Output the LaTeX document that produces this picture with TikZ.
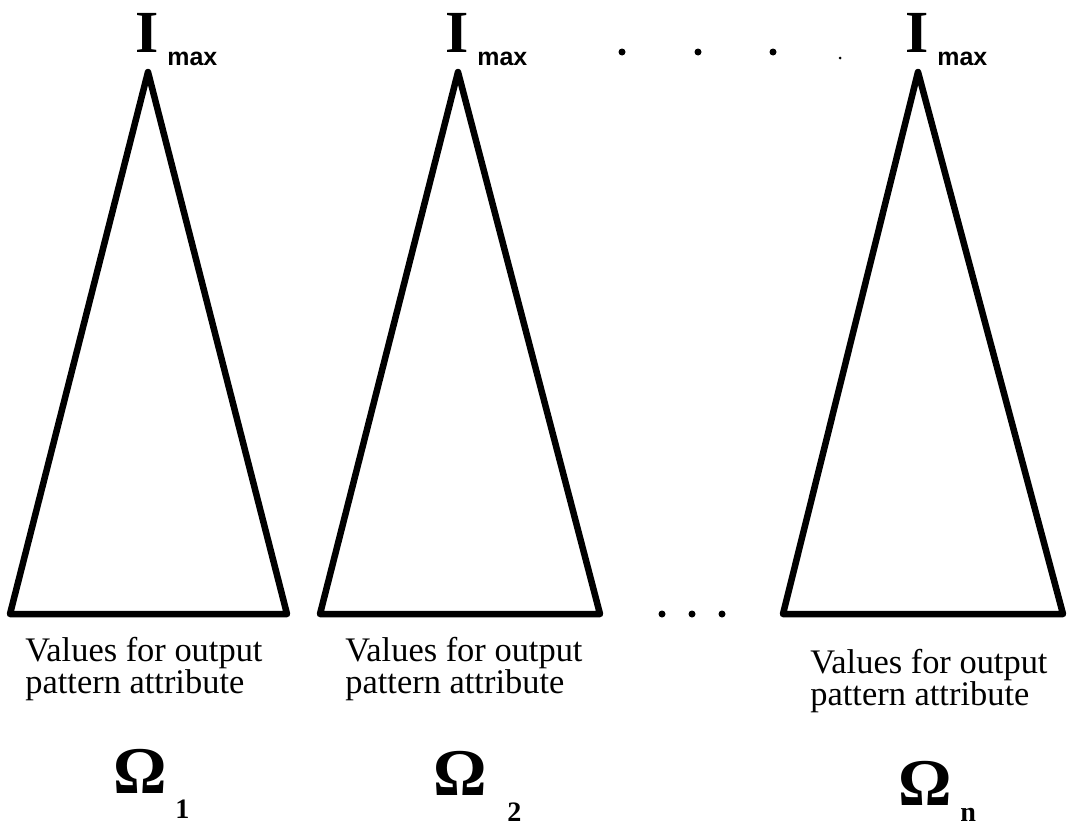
\documentclass[tikz,border=0pt]{standalone}
\usepackage{fontspec}
\setmainfont{Liberation Serif}
\newfontfamily\helv{Liberation Sans}

\begin{document}
\begin{tikzpicture}[x=0.02cm,y=-0.02cm,
    tri/.style={line width=0.13cm, line join=round},
    imax/.style={inner sep=0pt, font=\fontsize{34}{34}\selectfont\bfseries},
    maxlbl/.style={inner sep=0pt, font=\helv\fontsize{14.2}{14.2}\selectfont\bfseries},
    lbl/.style={inner sep=0pt, align=left, font=\fontsize{19.6}{18.2}\selectfont},
    omega/.style={inner sep=0pt, font=\fontsize{38}{38}\selectfont\bfseries},
    idx/.style={inner sep=0pt, font=\fontsize{16}{16}\selectfont\bfseries},
    dot/.style={fill=black}
]
\useasboundingbox (0,0) rectangle (1070,825);

% the three triangles with their I_max labels
\foreach \i/\ax/\bl/\br in {1/148/10/287, 2/458/320/600, 3/918/783/1063} {
  \draw[tri] (\ax,72) -- (\bl,614) -- (\br,614) -- cycle;
  \node[imax, anchor=base] (i\i) at (\ax-1,52) {I};
  \node[maxlbl, anchor=base west] (m\i) at (\ax+19,65) {max};
}

% dots between the second and last triangle
\foreach \x in {622,698,773} {
  \fill[dot] (\x,52) circle (3.5);
}
\fill[dot] (840,58) circle (1.5);
\foreach \x in {662,692,722} {
  \fill[dot] (\x,614) circle (3.5);
}

% labels under the triangles
\node[lbl, anchor=base west] (v1) at (25,693) {Values for output\\pattern attribute};
\node[lbl, anchor=base west] (v2) at (345,693) {Values for output\\pattern attribute};
\node[lbl, anchor=base west] (v3) at (810,705) {Values for output\\pattern attribute};

\node[omega, anchor=base] (o1) at (140,793) {Ω};
\node[idx, anchor=base west] (s1) at (175,818) {1};
\node[omega, anchor=base] (o2) at (460,795) {Ω};
\node[idx, anchor=base west] (s2) at (507,821) {2};
\node[omega, anchor=base] (o3) at (925,805) {Ω};
\node[idx, anchor=base west] (s3) at (960,821) {n};
\end{tikzpicture}
\end{document}
